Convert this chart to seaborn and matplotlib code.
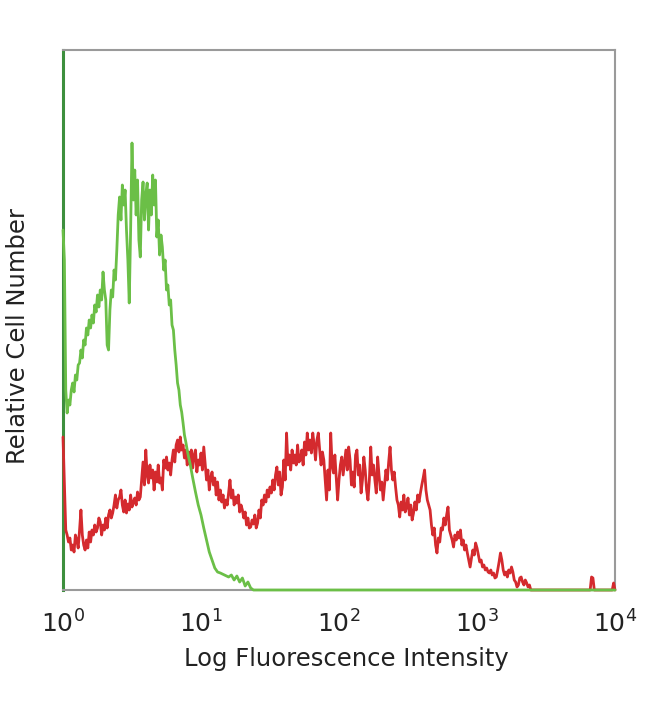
import numpy as np
import pandas as pd
import matplotlib
matplotlib.use('Agg')
import matplotlib.pyplot as plt
import seaborn as sns; sns.set_style('white')

# Histogram traces: (log10 intensity, relative cell count)
green_pts = [
    (0.00, 360), (0.01, 330), (0.02, 200), (0.03, 177), (0.04, 190), (0.05, 185),
    (0.06, 200), (0.07, 207), (0.08, 198), (0.09, 215), (0.10, 210), (0.11, 225),
    (0.12, 227), (0.13, 240), (0.14, 232), (0.15, 250), (0.16, 245), (0.17, 262),
    (0.18, 255), (0.19, 270), (0.20, 262), (0.21, 275), (0.22, 267), (0.23, 285),
    (0.24, 278), (0.25, 295), (0.26, 283), (0.27, 300), (0.28, 290), (0.29, 318),
    (0.30, 300), (0.31, 290), (0.32, 245), (0.33, 240), (0.34, 280), (0.35, 300),
    (0.36, 293), (0.37, 320), (0.38, 310), (0.39, 340), (0.40, 375), (0.41, 393),
    (0.42, 370), (0.43, 405), (0.44, 385), (0.45, 400), (0.46, 360), (0.47, 330),
    (0.48, 287), (0.49, 360), (0.50, 447), (0.51, 390), (0.52, 420), (0.53, 375),
    (0.54, 410), (0.55, 350), (0.56, 333), (0.57, 390), (0.58, 408), (0.59, 370),
    (0.60, 395), (0.61, 407), (0.62, 360), (0.63, 400), (0.64, 375), (0.65, 415),
    (0.66, 385), (0.67, 410), (0.68, 353), (0.69, 370), (0.70, 335), (0.71, 355),
    (0.72, 343), (0.73, 320), (0.74, 330), (0.75, 300), (0.76, 305), (0.77, 285),
    (0.78, 290), (0.79, 265), (0.80, 260), (0.81, 240), (0.82, 225), (0.83, 207),
    (0.84, 200), (0.85, 185), (0.86, 178), (0.87, 167), (0.88, 155), (0.89, 148),
    (0.90, 140), (0.91, 133), (0.92, 127), (0.94, 112), (0.96, 98), (0.98, 85),
    (1.00, 75), (1.02, 62), (1.04, 50), (1.06, 38), (1.08, 30), (1.10, 22),
    (1.12, 18), (1.14, 17), (1.17, 15), (1.20, 13), (1.22, 15), (1.24, 10),
    (1.26, 14), (1.28, 8), (1.30, 12), (1.32, 4), (1.34, 8), (1.36, 2),
    (1.38, 0), (4.00, 0),
]

red_pts = [
    (0.00, 153), (0.02, 60), (0.03, 55), (0.04, 48), (0.05, 52), (0.06, 40),
    (0.07, 45), (0.08, 38), (0.09, 55), (0.10, 50), (0.11, 42), (0.12, 60),
    (0.13, 80), (0.14, 55), (0.15, 45), (0.16, 40), (0.17, 50), (0.18, 42),
    (0.19, 58), (0.20, 48), (0.21, 60), (0.22, 55), (0.23, 65), (0.24, 58),
    (0.25, 62), (0.26, 72), (0.27, 68), (0.28, 55), (0.29, 65), (0.30, 60),
    (0.31, 72), (0.32, 62), (0.33, 75), (0.34, 80), (0.35, 72), (0.36, 77),
    (0.37, 85), (0.38, 95), (0.39, 82), (0.40, 90), (0.41, 93), (0.42, 100),
    (0.43, 85), (0.44, 78), (0.45, 90), (0.46, 77), (0.47, 86), (0.48, 80),
    (0.49, 95), (0.50, 83), (0.51, 88), (0.52, 92), (0.53, 85), (0.54, 98),
    (0.55, 90), (0.56, 93), (0.57, 110), (0.58, 128), (0.59, 105), (0.60, 140),
    (0.61, 115), (0.62, 107), (0.63, 125), (0.64, 112), (0.65, 120), (0.66, 100),
    (0.67, 118), (0.68, 108), (0.69, 125), (0.70, 107), (0.71, 112), (0.72, 100),
    (0.73, 130), (0.74, 122), (0.75, 133), (0.76, 120), (0.77, 127), (0.78, 115),
    (0.79, 130), (0.80, 140), (0.81, 128), (0.82, 145), (0.83, 150), (0.84, 138),
    (0.85, 153), (0.86, 140), (0.87, 145), (0.88, 132), (0.89, 140), (0.90, 125),
    (0.91, 138), (0.92, 130), (0.93, 140), (0.94, 122), (0.95, 135), (0.96, 140),
    (0.97, 118), (0.98, 130), (0.99, 125), (1.00, 137), (1.01, 120), (1.02, 143),
    (1.03, 127), (1.04, 110), (1.05, 120), (1.06, 100), (1.07, 112), (1.08, 118),
    (1.09, 105), (1.10, 112), (1.11, 95), (1.12, 108), (1.13, 90), (1.14, 100),
    (1.15, 88), (1.16, 95), (1.17, 82), (1.18, 90), (1.19, 85), (1.20, 97),
    (1.21, 110), (1.22, 92), (1.23, 100), (1.24, 85), (1.25, 93), (1.26, 87),
    (1.27, 95), (1.28, 78), (1.29, 85), (1.30, 80), (1.31, 72), (1.32, 78),
    (1.33, 65), (1.34, 72), (1.35, 62), (1.36, 63), (1.37, 70), (1.38, 66),
    (1.39, 75), (1.40, 62), (1.41, 67), (1.42, 80), (1.43, 72), (1.44, 90),
    (1.45, 85), (1.46, 95), (1.47, 88), (1.48, 100), (1.49, 93), (1.50, 103),
    (1.51, 97), (1.52, 110), (1.53, 100), (1.54, 115), (1.55, 123), (1.56, 105),
    (1.57, 118), (1.58, 95), (1.59, 103), (1.60, 130), (1.61, 110), (1.62, 157),
    (1.63, 125), (1.64, 135), (1.65, 120), (1.66, 140), (1.67, 127), (1.68, 135),
    (1.69, 125), (1.70, 145), (1.71, 128), (1.72, 130), (1.73, 140), (1.74, 125),
    (1.75, 148), (1.76, 135), (1.77, 157), (1.78, 140), (1.79, 150), (1.80, 137),
    (1.81, 157), (1.82, 145), (1.83, 130), (1.84, 150), (1.85, 157), (1.86, 140),
    (1.87, 125), (1.88, 138), (1.89, 130), (1.90, 110), (1.91, 90), (1.92, 120),
    (1.93, 100), (1.94, 157), (1.95, 125), (1.96, 117), (1.97, 135), (1.98, 112),
    (1.99, 90), (2.00, 110), (2.01, 125), (2.02, 133), (2.03, 115), (2.04, 128),
    (2.05, 140), (2.06, 120), (2.07, 143), (2.08, 130), (2.09, 105), (2.10, 118),
    (2.11, 103), (2.12, 135), (2.13, 140), (2.14, 115), (2.15, 125), (2.16, 97),
    (2.17, 110), (2.18, 133), (2.19, 120), (2.20, 100), (2.21, 90), (2.22, 110),
    (2.23, 143), (2.24, 115), (2.25, 125), (2.26, 110), (2.27, 97), (2.28, 133),
    (2.29, 115), (2.30, 100), (2.31, 108), (2.32, 90), (2.33, 105), (2.34, 120),
    (2.35, 110), (2.36, 128), (2.37, 143), (2.38, 120), (2.39, 110), (2.40, 118),
    (2.41, 103), (2.42, 90), (2.43, 85), (2.44, 73), (2.45, 88), (2.46, 80),
    (2.47, 95), (2.48, 78), (2.49, 83), (2.50, 92), (2.51, 75), (2.52, 85),
    (2.53, 70), (2.54, 77), (2.55, 88), (2.56, 80), (2.57, 95), (2.58, 88),
    (2.59, 97), (2.60, 105), (2.61, 112), (2.62, 120), (2.63, 100), (2.64, 90),
    (2.65, 85), (2.66, 80), (2.67, 65), (2.68, 55), (2.69, 62), (2.70, 45),
    (2.71, 37), (2.72, 52), (2.73, 48), (2.74, 62), (2.75, 60), (2.76, 72),
    (2.77, 65), (2.78, 75), (2.79, 83), (2.80, 60), (2.81, 55), (2.82, 50),
    (2.83, 43), (2.84, 55), (2.85, 50), (2.86, 58), (2.87, 52), (2.88, 60),
    (2.89, 45), (2.90, 50), (2.91, 40), (2.92, 45), (2.93, 37), (2.94, 30),
    (2.95, 23), (2.96, 32), (2.97, 40), (2.98, 35), (2.99, 47), (3.00, 42),
    (3.01, 35), (3.02, 28), (3.03, 30), (3.04, 23), (3.05, 25), (3.06, 20),
    (3.07, 22), (3.08, 18), (3.09, 17), (3.10, 20), (3.11, 15), (3.12, 17),
    (3.13, 12), (3.14, 13), (3.15, 20), (3.16, 28), (3.17, 37), (3.18, 30),
    (3.19, 20), (3.20, 15), (3.21, 18), (3.22, 13), (3.23, 20), (3.24, 17),
    (3.25, 23), (3.26, 18), (3.27, 10), (3.28, 8), (3.29, 3), (3.30, 5),
    (3.31, 12), (3.32, 13), (3.33, 8), (3.34, 5), (3.35, 10), (3.36, 7),
    (3.37, 3), (3.38, 5), (3.39, 0), (3.82, 0), (3.83, 13), (3.84, 12),
    (3.85, 0), (3.98, 0), (3.99, 7), (4.00, 0),
]

x_ticks = [1, 10, 100, 1000, 10000]


def to_frame(pts):
    df = pd.DataFrame(pts, columns=['log_int', 'count'])
    df['intensity'] = 10 ** df['log_int']
    return df


green = to_frame(green_pts)
red = to_frame(red_pts)

fig = plt.figure(figsize=(6.5, 7.04), dpi=100)
ax = fig.add_axes([63 / 650, 1 - 590 / 704, 552 / 650, 540 / 704])

sns.lineplot(data=red, x='intensity', y='count', sort=False, estimator=None,
             color='#d42a2e', linewidth=2, ax=ax, clip_on=False, zorder=3)
sns.lineplot(data=green, x='intensity', y='count', sort=False, estimator=None,
             color='#6bbf47', linewidth=2, ax=ax, clip_on=False, zorder=4)

ax.set_xscale('log')
ax.set_xlim(1, 10000)
ax.set_ylim(0, 540)
ax.set_xticks(x_ticks)
ax.minorticks_off()
ax.set_yticks([])
ax.tick_params(axis='x', length=0, pad=15, labelsize=18, labelcolor='#222222')

ax.set_xlabel('Log Fluorescence Intensity', fontsize=17.5, color='#222222')
ax.set_ylabel('Relative Cell Number', fontsize=17.5, color='#222222')
ax.xaxis.set_label_coords(0.513, -0.105)
ax.yaxis.set_label_coords(-0.06, 0.47)

for side in ['top', 'right', 'bottom']:
    ax.spines[side].set_color('#9a9a9a')
    ax.spines[side].set_linewidth(1.5)
ax.spines['left'].set_color('#3d8f3d')
ax.spines['left'].set_linewidth(2.2)

fig.savefig('out.png', dpi=100)
